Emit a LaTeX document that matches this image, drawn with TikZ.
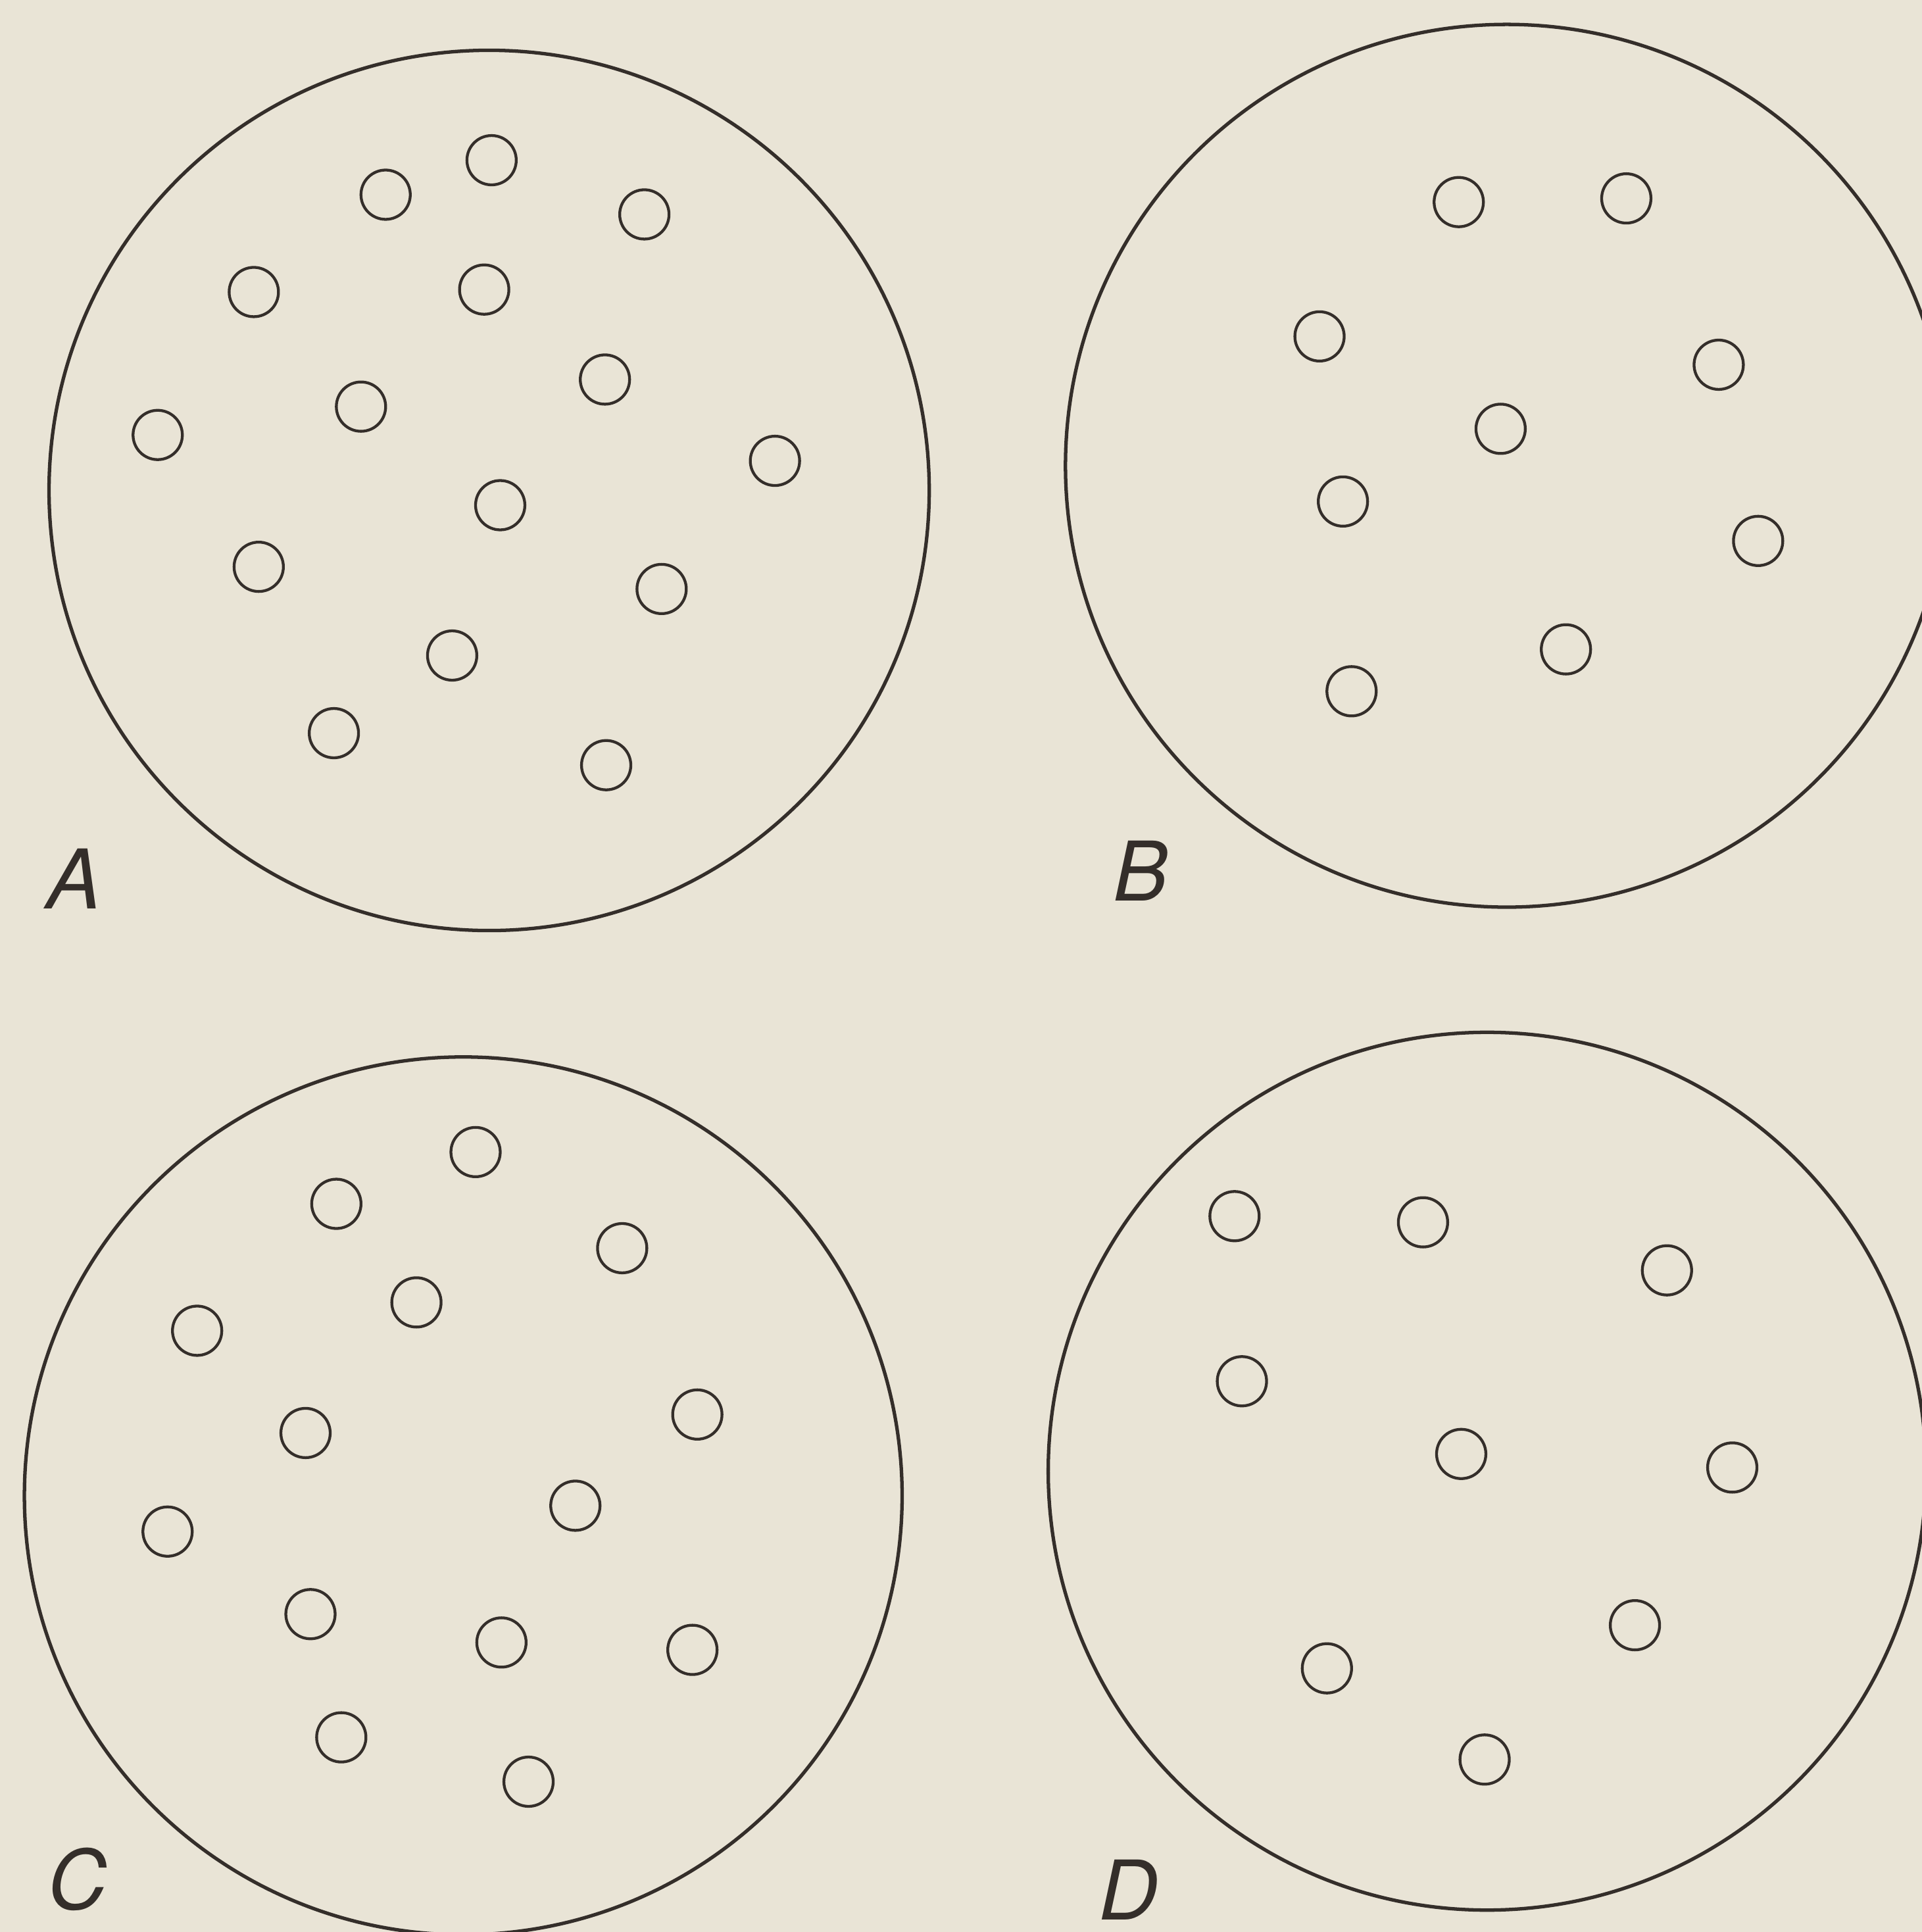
\documentclass[tikz,border=0pt]{standalone}
\usepackage{fontspec}
\setmainfont{TeX Gyre Heros}
\definecolor{paper}{RGB}{233,228,214}
\definecolor{ink}{RGB}{52,46,42}
\begin{document}
\begin{tikzpicture}[x=0.01cm,y=-0.01cm,
  dish/.style={circle,draw=ink,line width=0.8pt,inner sep=0pt},
  hole/.style={circle,draw=ink,line width=0.65pt,inner sep=0pt,minimum size=0.40cm},
  lbl/.style={text=ink,font=\fontsize{19}{19}\selectfont\itshape,inner sep=0pt}]
\useasboundingbox (0,0) rectangle (1560,1568);
\fill[paper] (0,0) rectangle (1560,1568);
\clip (0,0) rectangle (1560,1568);
% dishes
\node[dish,minimum size=7.14cm] (dA) at (397,398) {};
\node[dish,minimum size=7.16cm] (dB) at (1223,378) {};
\node[dish,minimum size=7.12cm] (dC) at (376,1214) {};
\node[dish,minimum size=7.12cm] (dD) at (1207,1194) {};
% labels
\node[lbl] (lA) at (60,713) {A};
\node[lbl] (lB) at (926,707) {B};
\node[lbl] (lC) at (63,1525) {C};
\node[lbl] (lD) at (916,1534) {D};
% holes A
\foreach \x/\y [count=\i] in {399/130,313/158,523/174,206/237,393/235,491/308,293/330,128/353,629/374,406/410,210/460,537/478,367/532,271/595,492/621}
  \node[hole] (a\i) at (\x,\y) {};
% holes B
\foreach \x/\y [count=\i] in {1184/164,1320/161,1071/273,1395/296,1218/348,1090/407,1427/439,1271/527,1097/561}
  \node[hole] (b\i) at (\x,\y) {};
% holes C
\foreach \x/\y [count=\i] in {386/935,273/977,505/1013,338/1057,160/1080,566/1148,248/1163,467/1222,136/1243,252/1310,407/1333,562/1339,277/1410,429/1446}
  \node[hole] (c\i) at (\x,\y) {};
% holes D
\foreach \x/\y [count=\i] in {1002/987,1155/992,1353/1031,1008/1121,1186/1180,1406/1191,1327/1319,1077/1354,1205/1428}
  \node[hole] (d\i) at (\x,\y) {};
\end{tikzpicture}
\end{document}
